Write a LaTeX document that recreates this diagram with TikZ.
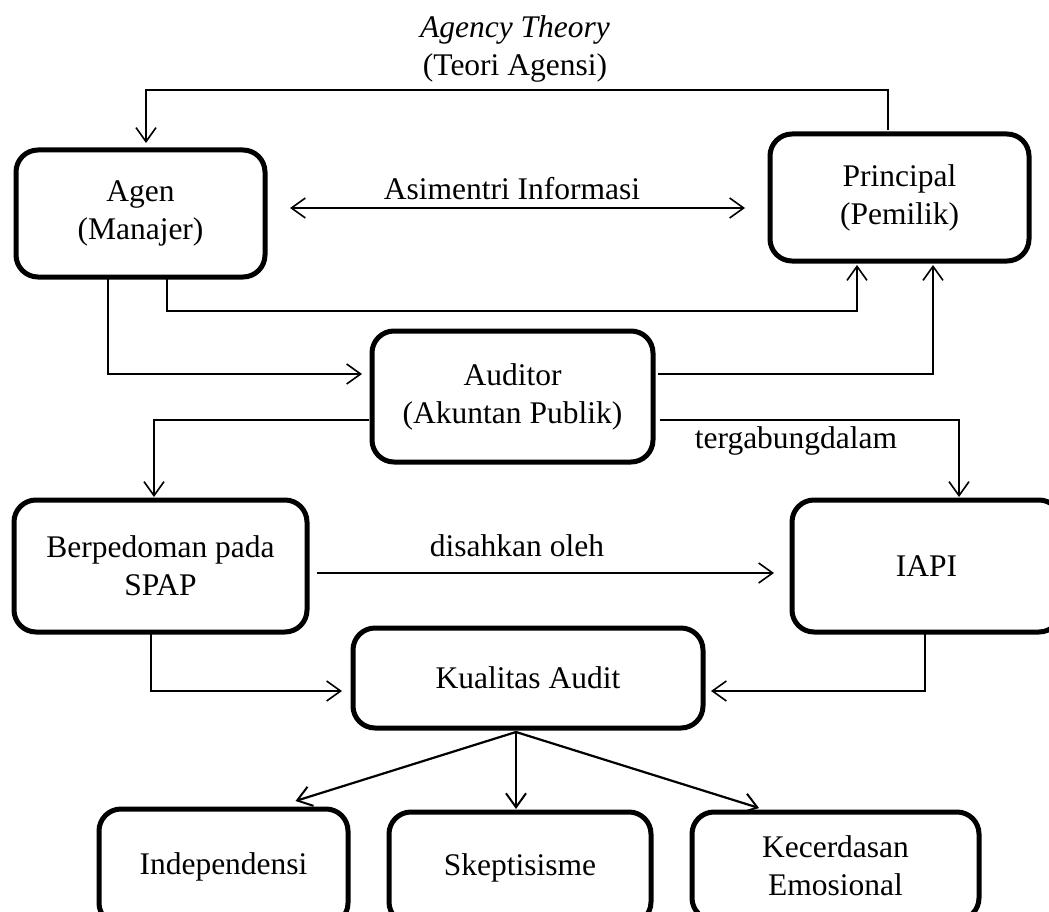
\documentclass[tikz,border=0pt]{standalone}
\usepackage{fontspec}
\setmainfont{Liberation Serif}
\usetikzlibrary{arrows.meta}
\begin{document}
\begin{tikzpicture}[x=1pt,y=-1pt,
  txt/.style={font=\fontsize{31.5}{38}\selectfont},
  box/.style={txt,draw,line width=5pt,rounded corners=22pt,align=center,inner sep=0pt,outer sep=0pt},
  lbl/.style={txt,inner sep=0pt,align=center},
  conn/.style={line width=1.6pt,-{Straight Barb[length=14pt,width=20pt,line width=1.6pt]}},
  dconn/.style={line width=1.6pt,{Straight Barb[length=14pt,width=20pt,line width=1.6pt]}-{Straight Barb[length=14pt,width=20pt,line width=1.6pt]}},
  fan/.style={line width=2.2pt,-{Straight Barb[length=14pt,width=20pt,line width=2pt]}}
]
\clip (0,0) rectangle (1049,912);
\fill[white] (0,0) rectangle (1049,912);

% boxes
\node[box,minimum width=249,minimum height=127] (agen) at (140.5,213.5) {Agen\\(Manajer)};
\node[box,minimum width=259,minimum height=127] (principal) at (899.5,197.5) {Principal\\(Pemilik)};
\node[box,minimum width=281,minimum height=131] (auditor) at (512.5,396.5) {Auditor\\(Akuntan Publik)};
\node[box,minimum width=293,minimum height=132] (spap) at (160.5,566) {Berpedoman pada\\SPAP};
\node[box,minimum width=269,minimum height=132] (iapi) at (926.5,566) {IAPI};
\node[box,minimum width=350,minimum height=100] (kualitas) at (528,678) {Kualitas Audit};
\node[box,minimum width=249,minimum height=116] (indep) at (223.5,867) {Independensi};
\node[box,minimum width=262,minimum height=112] (skep) at (520,868) {Skeptisisme};
\node[box,minimum width=287,minimum height=108] (kec) at (835.5,866) {Kecerdasan\\Emosional};

% labels
\node[lbl] (title) at (515,49) {\textit{Agency Theory}\\(Teori Agensi)};
\node[lbl] (asim) at (512,189) {Asimentri Informasi};
\node[lbl] (terg) at (796,441) {tergabungdalam};
\node[lbl] (disah) at (517,546) {disahkan oleh};

% connectors
\draw[conn] ([xshift=-11.5pt,yshift=4pt]principal.north) -- ++(0,-40) -| ([xshift=5.5pt,yshift=7pt]agen.north);
\draw[dconn] ([xshift=25pt,yshift=5.5pt]agen.east) -- ([xshift=-25pt,yshift=-10.5pt]principal.west);
\draw[conn] ([xshift=-32.5pt]agen.south) |- ([xshift=-10pt,yshift=22.5pt]auditor.west);
\draw[conn] ([xshift=26.5pt]agen.south) -- ++(0,34) -| ([xshift=-42.5pt,yshift=-4pt]principal.south);
\draw[conn] ([xshift=5pt,yshift=22.5pt]auditor.east) -| ([xshift=33.5pt,yshift=-4pt]principal.south);
\draw[conn] ([xshift=-3pt,yshift=-23.5pt]auditor.west) -| ([xshift=-6.5pt,yshift=3pt]spap.north);
\draw[conn] ([xshift=7pt,yshift=-23.5pt]auditor.east) -| ([xshift=32.5pt,yshift=3pt]iapi.north);
\draw[conn] ([xshift=10pt,yshift=-7pt]spap.east) -- ([xshift=-18pt,yshift=-7pt]iapi.west);
\draw[conn] ([xshift=-9.5pt]spap.south) |- ([xshift=-11pt,yshift=-13pt]kualitas.west);
\draw[conn] ([xshift=-1.5pt]iapi.south) |- ([xshift=8pt,yshift=-13pt]kualitas.east);
\draw[fan] ([xshift=-12pt,yshift=-4pt]kualitas.south) -- ([xshift=72pt,yshift=8pt]indep.north);
\draw[fan] ([xshift=-12pt,yshift=-4pt]kualitas.south) -- ([xshift=-4pt,yshift=3pt]skep.north);
\draw[fan] ([xshift=-12pt,yshift=-4pt]kualitas.south) -- ([xshift=-76.5pt,yshift=4pt]kec.north);
\end{tikzpicture}
\end{document}
